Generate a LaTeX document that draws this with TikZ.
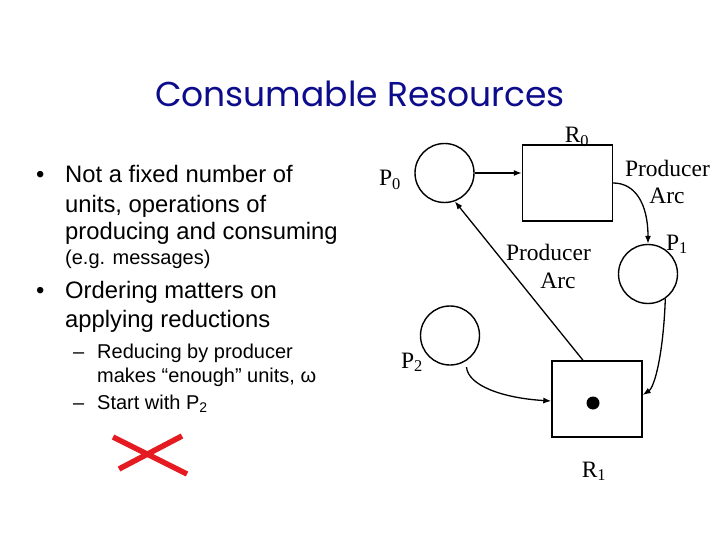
\documentclass[tikz,border=0pt]{standalone}
\usepackage{fontspec}
\setmainfont{Liberation Serif}
\newfontfamily\bodyfont{Liberation Sans}
\newfontfamily\titlefont{Poppins}
\usetikzlibrary{arrows.meta,positioning}
\definecolor{titleblue}{RGB}{12,12,140}
\definecolor{crossred}{RGB}{228,28,34}
\tikzset{
  place/.style={draw,circle,line width=1.4pt,minimum size=59pt,inner sep=0pt},
  res/.style={draw,rectangle,line width=1.4pt,minimum width=90pt,minimum height=76pt,inner sep=0pt},
  token/.style={fill,circle,minimum size=13pt,inner sep=0pt},
  arc/.style={line width=1.3pt,-{Latex[length=8pt,width=6pt]}},
  lbl/.style={anchor=base,inner sep=0pt,font=\fontsize{23.5}{27}\selectfont},
  txt/.style={anchor=base west,inner sep=0pt,font=\bodyfont\fontsize{23.8}{28}\selectfont},
  subtxt/.style={anchor=base west,inner sep=0pt,font=\bodyfont\fontsize{20}{24}\selectfont},
}
\begin{document}
\begin{tikzpicture}[x=1pt,y=-1pt]
    \useasboundingbox (0,0) rectangle (720,540);
    % title
    \node[anchor=base,inner sep=0pt,text=titleblue,font=\titlefont\fontsize{34.5}{40}\selectfont]
        (title) at (360,107) {Consumable Resources};

    % bullet list on the left
    \node[txt] (dot1) at (36,183) {\textbullet};
    \node[txt] (b1a) at (65,183) {Not a fixed number of};
    \node[txt] (b1b) at (65,212) {units, operations of};
    \node[txt] (b1c) at (65,240) {producing and consuming};
    \node[subtxt] (b1d) at (65,264) {(e.g. messages)};
    \node[txt] (dot2) at (36,298) {\textbullet};
    \node[txt] (b2a) at (65,298) {Ordering matters on};
    \node[txt] (b2b) at (65,327) {applying reductions};
    \node[subtxt] (dash1) at (73,358) {–};
    \node[subtxt] (s1a) at (97,358) {Reducing by producer};
    \node[subtxt] (s1b) at (97,382) {makes “enough” units, ω};
    \node[subtxt] (dash2) at (73,409) {–};
    \node[subtxt] (s2a) at (97,409) {Start with P\textsubscript{2}};

    % red cross
    \draw[crossred,line width=5.5pt] (113,437) -- (187,474);
    \draw[crossred,line width=5.5pt] (182,436) -- (119,469);

    % places and resources
    \node[place] (P0) at (444.5,173) {};
    \node[res] (R0) at (567.5,183) {};
    \node[place] (P1) at (648,274) {};
    \node[place] (P2) at (450,335.5) {};
    \node[res] (R1) at (597,399) {};
    \node[token] (tok) at (593,403) {};

    % labels
    \node[lbl] (R0lab) at (577,143) {R\textsubscript{0}};
    \node[lbl] (P0lab) at (390,186) {P\textsubscript{0}};
    \node[lbl] (P1lab) at (677,250) {P\textsubscript{1}};
    \node[lbl] (P2lab) at (412,368) {P\textsubscript{2}};
    \node[lbl] (R1lab) at (594,477) {R\textsubscript{1}};
    \node[lbl] (arcAa) at (667.5,177) {Producer};
    \node[lbl] (arcAb) at (667,204) {Arc};
    \node[lbl] (arcBa) at (548.5,260) {Producer};
    \node[lbl] (arcBb) at (558,288) {Arc};

    % arcs
    \draw[arc] (P0.east) -- (P0.east -| R0.west);
    \draw[arc] (R0.east) .. controls +(22,0) and +(0,-40) .. (P1.north);
    \draw[arc] (P1.-55) .. controls +(-2,55) and +(12,-8) .. ([yshift=4pt]R1.east);
    \draw[arc] ([xshift=-14pt]R1.north) -- (P0.-70);
    \draw[arc,shorten <=6pt] (P2.-58) .. controls +(2,24) and +(-50,-3) .. ([yshift=-2pt]R1.west);
\end{tikzpicture}
\end{document}
